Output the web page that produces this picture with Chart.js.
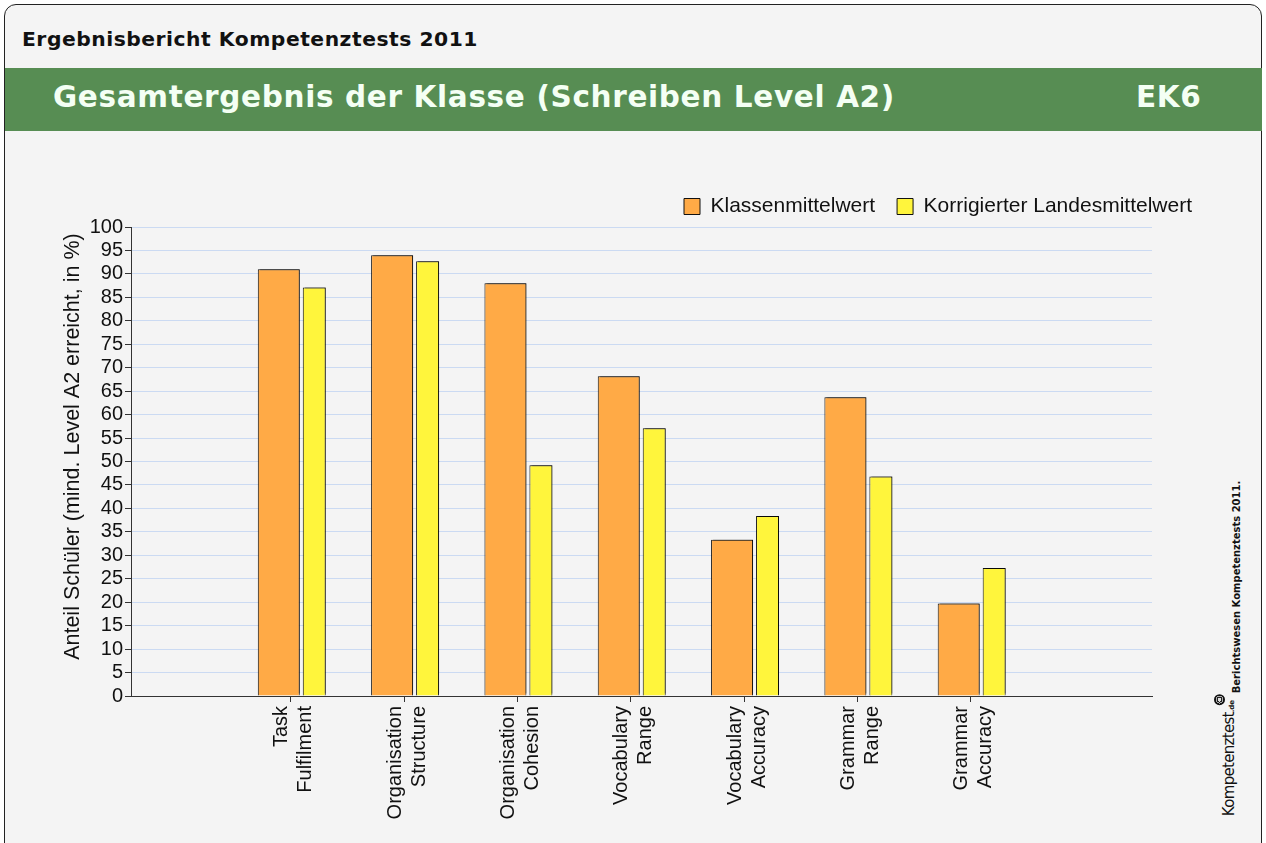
<!DOCTYPE html>
<html>
<head>
<meta charset="utf-8">
<script src="https://cdn.jsdelivr.net/npm/chart.js@4.4.1/dist/chart.umd.min.js"></script>
<style>
  html, body { margin:0; padding:0; background:#ffffff; width:1266px; height:843px; overflow:hidden; }
  #frame { position:absolute; left:4px; top:4px; width:1256px; height:870px; background:#f4f4f4;
           border:1.5px solid #222; border-radius:12px; overflow:hidden; }
  .hd { position:absolute; font-family:"DejaVu Sans",sans-serif; font-weight:bold; white-space:nowrap;
        transform-origin:0 50%; }
  #sup { left:22px; top:28px; font-size:19.5px; color:#111; transform:scaleX(1.04); letter-spacing:0.5px; }
  #band { position:absolute; left:5px; top:68px; width:1257px; height:63px; background:#578d53; }
  #title { left:53px; top:80px; font-size:29.5px; color:#f4fff4; letter-spacing:0.65px; }
  #code { left:1136px; top:80px; font-size:29.5px; color:#f4fff4; letter-spacing:0.65px; }
  #wrap { position:absolute; left:50px; top:140px; width:1164px; height:700px; }
  #side { position:absolute; left:1236px; top:587px; transform:translate(-50%,-50%) rotate(-90deg);
          font-family:"DejaVu Sans",sans-serif; font-weight:bold;
          font-size:10px; color:#111; white-space:nowrap; }
  #logo { position:absolute; left:1226px; top:755px; transform:translate(-50%,-50%) rotate(-90deg);
          font-family:"DejaVu Sans",sans-serif; font-size:15px; color:#111; white-space:nowrap;
          letter-spacing:-0.7px; }
  #logo small { font-size:7px; font-weight:bold; letter-spacing:0; }
  #logo .dot { display:inline-block; width:11px; height:11px; border-radius:50%;
               background:radial-gradient(circle, #ddd 0 2px, #222 2px 3px, #aaa 3px 4px, #111 4px);
               vertical-align:9px; margin-left:-5px; }
</style>
</head>
<body>
<div id="frame"></div>
<div id="sup" class="hd">Ergebnisbericht Kompetenztests 2011</div>
<div id="band"></div>
<div id="title" class="hd">Gesamtergebnis der Klasse (Schreiben Level A2)</div>
<div id="code" class="hd">EK6</div>
<div id="wrap"><canvas id="c"></canvas></div>
<div id="side">Berichtswesen Kompetenztests 2011.</div>
<div id="logo">Kompetenztest<small>.de</small><span class="dot"></span></div>
<script>
const categories = [
  ['Task', 'Fulfilment'],
  ['Organisation', 'Structure'],
  ['Organisation', 'Cohesion'],
  ['Vocabulary', 'Range'],
  ['Vocabulary', 'Accuracy'],
  ['Grammar', 'Range'],
  ['Grammar', 'Accuracy']
];
const klassenmittelwert = [91.0, 94.0, 88.0, 68.2, 33.3, 63.7, 19.7];
const landesmittelwert  = [87.1, 92.7, 49.2, 57.1, 38.4, 46.8, 27.3];
const seriesNames = ['Klassenmittelwert', 'Korrigierter Landesmittelwert'];
const yTicks = [0, 5, 10, 15, 20, 25, 30, 35, 40, 45, 50, 55, 60, 65, 70, 75, 80, 85, 90, 95, 100];
const yTitle = 'Anteil Schüler (mind. Level A2 erreicht, in %)';

const toPoints = arr => arr.map((v, i) => ({ x: i + 1, y: v }));
const FONT = 'Liberation Sans, Arial, sans-serif';

const shadowPlugin = {
  id: 'barShadow',
  beforeDatasetsDraw(chart) {
    const ctx = chart.ctx;
    ctx.save();
    ctx.shadowColor = 'rgba(0,0,0,0.45)';
    ctx.shadowOffsetX = 2;
    ctx.shadowOffsetY = -2;
    ctx.shadowBlur = 0;
  },
  afterDatasetsDraw(chart) { chart.ctx.restore(); }
};

new Chart(document.getElementById('c'), {
  type: 'bar',
  data: {
    datasets: [
      { label: seriesNames[0], data: toPoints(klassenmittelwert), backgroundColor: '#ffaa46',
        borderColor: '#111', borderWidth: 1, categoryPercentage: 0.4233, barPercentage: 1.75, yAxisID: 'y' },
      { label: seriesNames[1], data: toPoints(landesmittelwert), backgroundColor: '#fff53c',
        borderColor: '#111', borderWidth: 1, categoryPercentage: 0.829, barPercentage: 0.489, yAxisID: 'y' }
    ]
  },
  options: {
    responsive: true,
    maintainAspectRatio: false,
    animation: false,
    layout: { padding: { top: 34, left: 0, right: 0, bottom: 0 } },
    plugins: {
      tooltip: { enabled: false },
      legend: {
        position: 'top', align: 'end',
        labels: { boxWidth: 16, boxHeight: 16, padding: 22, color: '#111', font: { family: FONT, size: 21 } }
      }
    },
    scales: {
      x: {
        type: 'linear', min: -0.41, max: 8.6, offset: false,
        afterFit(axis) { axis.height = 144; },
        grid: { offset: false, drawOnChartArea: false, drawTicks: true, tickLength: 6, tickColor: '#333' },
        border: { color: '#333', width: 1 },
        ticks: {
          stepSize: 1, includeBounds: false, autoSkip: false, maxRotation: 90, minRotation: 90,
          padding: 4, labelOffset: -9, color: '#111', font: { family: FONT, size: 20 },
          callback(v) { const c = categories[v - 1]; return (Number.isInteger(v) && c) ? c : null; }
        }
      },
      y: {
        min: 0, max: 100,
        afterFit(axis) { axis.width = 81; },
        afterBuildTicks(axis) { axis.ticks = yTicks.map(v => ({ value: v })); },
        grid: { color: '#cbdaf2', lineWidth: 1, tickLength: 6, tickColor: '#333' },
        border: { color: '#333', width: 1 },
        ticks: { autoSkip: false, padding: 2, color: '#111', font: { family: FONT, size: 20 } },
        title: { display: true, text: '     ' + yTitle, color: '#111', padding: { top: 10, bottom: 0 },
                 font: { family: FONT, size: 21.5 } }
      },
      yR: {
        position: 'right', display: true, min: 0, max: 1,
        afterFit(axis) { axis.width = 62; },
        grid: { display: false, drawTicks: false },
        border: { display: false },
        ticks: { display: false }
      }
    }
  },
  plugins: [shadowPlugin]
});
</script>
</body>
</html>
